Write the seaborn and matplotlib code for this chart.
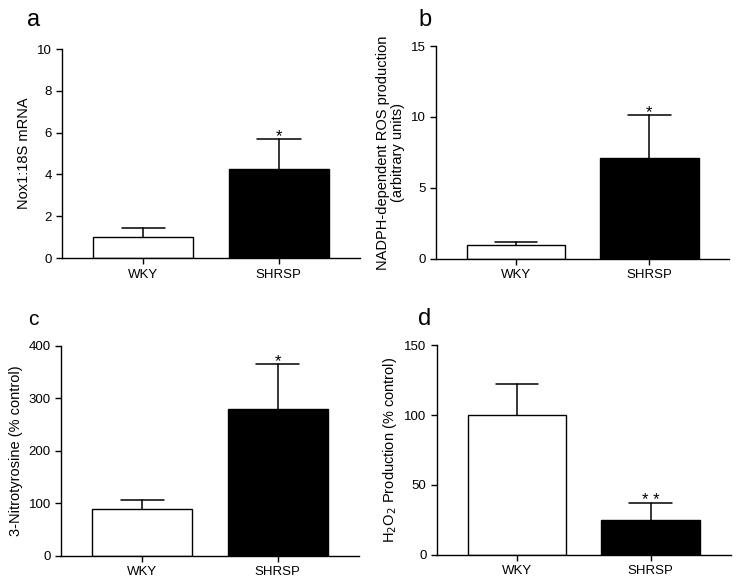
import numpy as np
import pandas as pd
import seaborn as sns
import matplotlib.pyplot as plt

sns.set_theme(style="ticks")
plt.rcParams['font.family'] = ['Liberation Sans', 'DejaVu Sans']
plt.rcParams['text.color'] = 'black'
plt.rcParams['axes.labelcolor'] = 'black'
plt.rcParams['xtick.color'] = 'black'
plt.rcParams['ytick.color'] = 'black'

# %% Dados
groups = ["WKY", "SHRSP"]
bar_colors = ["white", "black"]

nox_mean = [1.0, 4.25]
nox_sem = [0.45, 1.43]

ros_mean = [1.0, 7.1]
ros_sem = [0.2, 3.05]

nitro_mean = [89, 279]
nitro_sem = [18, 87]

h2o2_mean = [100, 25]
h2o2_sem = [22.5, 12]

panels = [
    ("a", nox_mean, nox_sem, "Nox1:18S mRNA", (0, 10), [0, 2, 4, 6, 8, 10], ["", "*"]),
    ("b", ros_mean, ros_sem, "NADPH-dependent ROS production\n(arbitrary units)", (0, 15), [0, 5, 10, 15], ["", "*"]),
    ("c", nitro_mean, nitro_sem, "3-Nitrotyrosine (% control)", (0, 400), [0, 100, 200, 300, 400], ["", "*"]),
    ("d", h2o2_mean, h2o2_sem, "H$_2$O$_2$ Production (% control)", (0, 150), [0, 50, 100, 150], ["", "* *"]),
]

axes_pos = [
    [0.084, 0.558, 0.404, 0.358],
    [0.591, 0.557, 0.397, 0.364],
    [0.083, 0.048, 0.403, 0.360],
    [0.592, 0.050, 0.398, 0.359],
]
# posição das letras (px na figura: x, linha de base, tamanho)
letter_pos = [(27, 26, 17), (418, 26, 17), (28, 325, 15), (418, 325, 17)]

# %% Figura
W, H = 738, 584
fig = plt.figure(figsize=(W / 100, H / 100), dpi=100)

for (letter, means, sems, ylabel, ylim, yticks, stars), pos, lp in zip(panels, axes_pos, letter_pos):
    ax = fig.add_axes(pos)
    df = pd.DataFrame({"grupo": groups, "valor": means})
    sns.barplot(data=df, x="grupo", y="valor", hue="grupo", palette=bar_colors,
                edgecolor="black", linewidth=1.0, width=0.74, legend=False, ax=ax)
    # barras de erro (só para cima)
    for i, (m, s) in enumerate(zip(means, sems)):
        ax.plot([i, i], [m, m + s], color="black", lw=1.1, zorder=1)
        ax.plot([i - 0.16, i + 0.16], [m + s, m + s], color="black", lw=1.1, zorder=1)
        if stars[i]:
            ax.annotate(stars[i], (i, m + s), xytext=(0, -1.5), textcoords="offset points",
                        ha="center", va="baseline", fontsize=12)
    ax.set_xlim(-0.6, 1.6)
    ax.set_ylim(*ylim)
    ax.set_yticks(yticks)
    ax.set_xlabel("")
    ax.set_ylabel(ylabel, fontsize=10.5, linespacing=1.1)
    ax.tick_params(axis="both", labelsize=9.5, length=4, width=1, color="black")
    sns.despine(ax=ax)
    for sp in ["left", "bottom"]:
        ax.spines[sp].set_linewidth(1)
        ax.spines[sp].set_color("black")
    fig.text(lp[0] / W, 1 - lp[1] / H, letter, fontsize=lp[2], ha="left", va="baseline")

fig.savefig("out.png", dpi=100)
